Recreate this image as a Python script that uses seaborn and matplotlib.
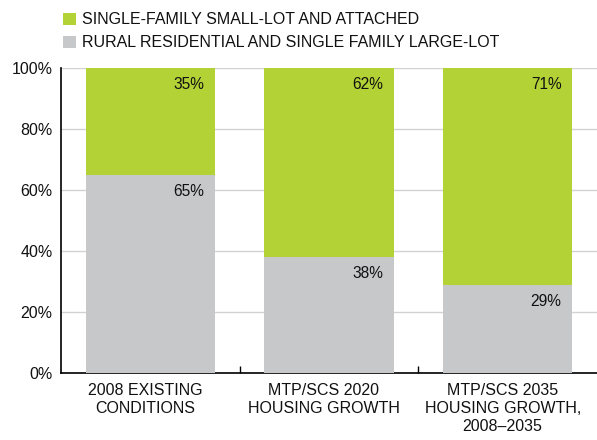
import matplotlib
matplotlib.use("Agg")
import matplotlib.pyplot as plt
import matplotlib.transforms as mtransforms
import seaborn as sns
import pandas as pd
from matplotlib.patches import Patch

categories = ["2008 EXISTING\nCONDITIONS", "MTP/SCS 2020\nHOUSING GROWTH", "MTP/SCS 2035\nHOUSING GROWTH,\n2008\u20132035"]
small_lot = [35, 62, 71]
large_lot = [65, 38, 29]
series_names = ["SINGLE-FAMILY SMALL-LOT AND ATTACHED", "RURAL RESIDENTIAL AND SINGLE FAMILY LARGE-LOT"]
y_ticks = [0, 20, 40, 60, 80, 100]

GREEN = "#B2D235"
GRAY = "#C7C8CA"

sns.set_theme(style="white")
plt.rcParams["font.family"] = ["Liberation Sans", "DejaVu Sans"]

df = pd.DataFrame({"cat": categories, "small": small_lot, "large": large_lot})
df["total"] = df["small"] + df["large"]

fig = plt.figure(figsize=(5.97, 4.4), dpi=100)
ax = fig.add_axes([61/597, 1-373/440, 536/597, (373-68)/440])

sns.barplot(data=df, x="cat", y="total", color=GREEN, saturation=1, width=0.724, ax=ax,
            zorder=2, linewidth=0, edgecolor="none")
sns.barplot(data=df, x="cat", y="large", color=GRAY, saturation=1, width=0.724, ax=ax,
            zorder=3, linewidth=0, edgecolor="none")

ax.set_ylim(0, 100)
ax.set_xlim(-0.5, 2.5)
ax.set_yticks(y_ticks)
ax.set_yticklabels([f"{t}%" for t in y_ticks], fontsize=11.5, color="#111111")
ax.yaxis.grid(True, color="#D2D2D2", linewidth=1, zorder=0)
ax.set_axisbelow(True)
ax.set_xlabel("")
ax.set_ylabel("")

ax.set_xticks([0, 1, 2])
ax.set_xticklabels(categories, fontsize=11.5, color="#111111", linespacing=1.25, va="top")
ax.tick_params(axis="x", length=0, pad=7)
ax.tick_params(axis="y", length=0, pad=6)
ax.set_xticks([0.5, 1.5], minor=True)
ax.tick_params(axis="x", which="minor", direction="in", length=5, width=1, color="black", bottom=True)
shift = mtransforms.ScaledTranslation(-5/100, 0, fig.dpi_scale_trans)
for lbl in ax.get_xticklabels():
    lbl.set_transform(lbl.get_transform() + shift)

for s in ["top", "right"]:
    ax.spines[s].set_visible(False)
ax.spines["left"].set_color("black")
ax.spines["bottom"].set_color("black")
ax.spines["left"].set_linewidth(1.2)
ax.spines["bottom"].set_linewidth(1.2)

bw = 0.724
for i in range(len(categories)):
    xr = i + bw/2 - 0.06
    ax.text(xr, df["total"][i] - 5.5, f"{small_lot[i]}%", ha="right", va="center", fontsize=11.2, color="#111111", zorder=5)
    ax.text(xr, large_lot[i] - 5.5, f"{large_lot[i]}%", ha="right", va="center", fontsize=11.2, color="#111111", zorder=5)

handles = [Patch(facecolor=GREEN, edgecolor="none"), Patch(facecolor=GRAY, edgecolor="none")]
fig.legend(handles, series_names, loc="upper left", bbox_to_anchor=(57/597, 1-6/440), frameon=False,
           fontsize=11.5, handlelength=0.8, handleheight=0.8, handletextpad=0.35, labelspacing=0.5,
           borderaxespad=0, labelcolor="#111111")

fig.savefig("out.png", dpi=100)
